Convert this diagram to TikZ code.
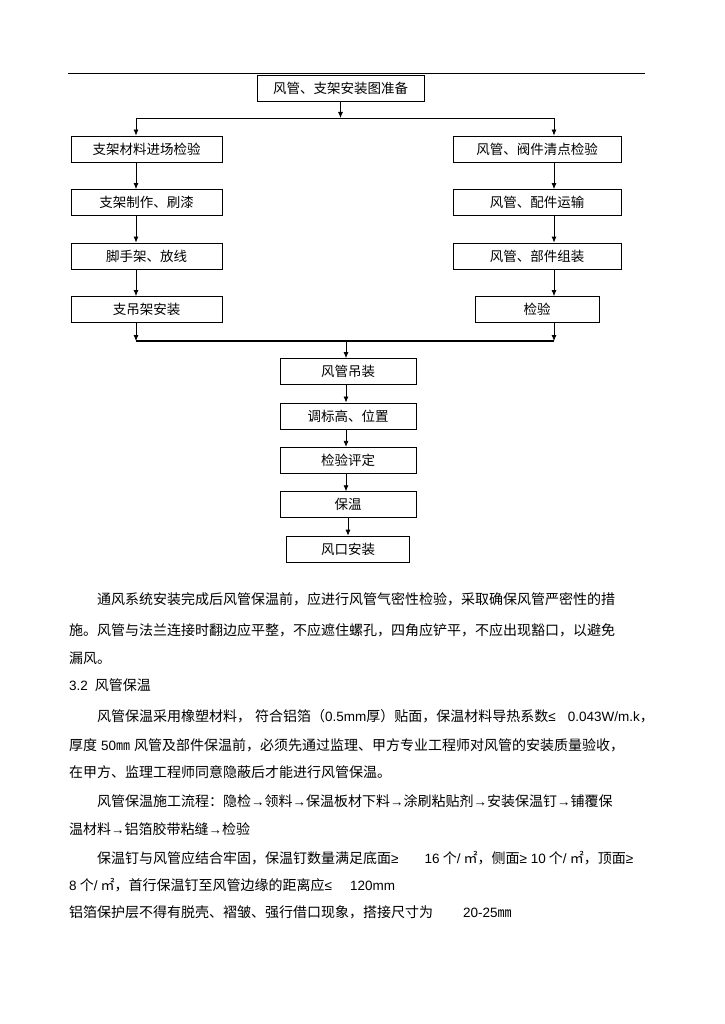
\documentclass[tikz,border=0pt]{standalone}
\usepackage{fontspec}
\newfontfamily\cjk{Noto Sans CJK SC}
\newfontfamily\lat{Liberation Sans}
\usepackage{tikz}
\usetikzlibrary{arrows.meta}
\tikzset{%
  >={Latex[width=5pt,length=6pt]},
            base/.style = {rectangle, draw=black, line width=0.8pt,
                           minimum height=26pt, inner sep=0pt,
                           text centered, font=\cjk\fontsize{13.5}{14}\selectfont},
  box0/.style = {base, minimum width=167pt},
  box1/.style = {base, minimum width=151pt},
  box2/.style = {base, minimum width=168pt},
  box3/.style = {base, minimum width=136pt},
  link/.style = {line width=0.8pt},
  para/.style = {anchor=base west, inner sep=0pt, font=\cjk\fontsize{14}{14}\selectfont},
}
\newcommand{\la}[1]{{\lat\fontsize{13.5}{14}\selectfont #1}}

\begin{document}
\begin{tikzpicture}[x=1pt, y=-1pt, node distance=53.5pt]
  \useasboundingbox (0,0) rectangle (724,1024);
  \draw[link] (68,73) -- (645,73);

  % flow chart
  \node (onPrep)   [box0] at (340.5,88)                  {风管、支架安装图准备};
  \node (onMat)    [box1] at (146.5,149)                 {支架材料进场检验};
  \node (onMake)   [box1, below of=onMat]                {支架制作、刷漆};
  \node (onScaf)   [box1, below of=onMake]               {脚手架、放线};
  \node (onHang)   [box1, below of=onScaf]               {支吊架安装};
  \node (onCheck)  [box2] at (537,149)                   {风管、阀件清点检验};
  \node (onTrans)  [box2, below of=onCheck]              {风管、配件运输};
  \node (onAsm)    [box2, below of=onTrans]              {风管、部件组装};
  \node (onInsp)   [box3, below of=onAsm, minimum width=124pt] {检验};
  \node (onLift)   [box3] at (348,371.5)                 {风管吊装};
  \node (onLevel)  [box3, below of=onLift,  node distance=44.4pt] {调标高、位置};
  \node (onEval)   [box3, below of=onLevel, node distance=44.4pt] {检验评定};
  \node (onHeat)   [box3, below of=onEval,  node distance=44.4pt] {保温};
  \node (onOutlet) [box3, below of=onHeat,  node distance=44.4pt, minimum width=123pt] {风口安装};

  \coordinate (bL) at (136,118);
  \coordinate (bR) at (554,118);
  \coordinate (mL) at (136,341);
  \coordinate (mR) at (554,341);
  \coordinate (mC) at (346,341);

  \draw[link, ->] (onPrep.south) -- (onPrep.south |- bL);
  \draw[link] (bL) -- (bR);
  \draw[link, ->] (bL) -- (bL |- onMat.north);
  \draw[link, ->] (bR) -- (bR |- onCheck.north);
  \foreach \a/\b in {onMat/onMake, onMake/onScaf, onScaf/onHang}
    \draw[link, ->] (\a.south -| bL) -- (\b.north -| bL);
  \foreach \a/\b in {onCheck/onTrans, onTrans/onAsm, onAsm/onInsp}
    \draw[link, ->] (\a.south -| bR) -- (\b.north -| bR);
  \draw[line width=1.8pt] (mL) -- (mR);
  \draw[link, ->] (onHang.south -| mL) -- (mL);
  \draw[link, ->] (onInsp.south -| mR) -- (mR);
  \draw[link, ->] (mC) -- (mC |- onLift.north);
  \foreach \a/\b in {onLift/onLevel, onLevel/onEval, onEval/onHeat}
    \draw[link, ->] (\a.south -| mC) -- (\b.north -| mC);
  \draw[link, ->] (onHeat) -- (onOutlet);

  % text below
  \node (p1)  [para] at (97,604) {通风系统安装完成后风管保温前，应进行风管气密性检验，采取确保风管严密性的措};
  \node (p2)  [para] at (69,635) {施。风管与法兰连接时翻边应平整，不应遮住螺孔，四角应铲平，不应出现豁口，以避免};
  \node (p3)  [para] at (69,663) {漏风。};
  \node (p4)  [para] at (69,690) {\la{3.2}\hspace{7pt}风管保温};
  \node (p5)  [para] at (97,721) {风管保温采用橡塑材料，\hspace{4pt}符合铝箔（\la{0.5mm}厚）贴面，保温材料导热系数\la{≤}\hspace{12pt}\la{0.043W/m.k}，};
  \node (p6)  [para] at (69,750) {厚度\hspace{4pt}\la{50}㎜\hspace{4pt}风管及部件保温前，必须先通过监理、甲方专业工程师对风管的安装质量验收，};
  \node (p7)  [para] at (69,777) {在甲方、监理工程师同意隐蔽后才能进行风管保温。};
  \node (p8)  [para] at (97,806) {风管保温施工流程：隐检\la{→}领料\la{→}保温板材下料\la{→}涂刷粘贴剂\la{→}安装保温钉\la{→}铺覆保};
  \node (p9)  [para] at (69,834) {温材料\la{→}铝箔胶带粘缝\la{→}检验};
  \node (p10) [para] at (97,863) {保温钉与风管应结合牢固，保温钉数量满足底面\la{≥}\hspace{26pt}\la{16} 个\la{/} ㎡，侧面\la{≥ 10} 个\la{/} ㎡，顶面\la{≥}};
  \node (p11) [para] at (69,890) {\la{8} 个\la{/} ㎡，首行保温钉至风管边缘的距离应\la{≤}\hspace{18pt}\la{120mm}};
  \node (p12) [para] at (69,917) {铝箔保护层不得有脱壳、褶皱、强行借口现象，搭接尺寸为\hspace{30pt}\la{20-25}㎜};
\end{tikzpicture}
\end{document}
